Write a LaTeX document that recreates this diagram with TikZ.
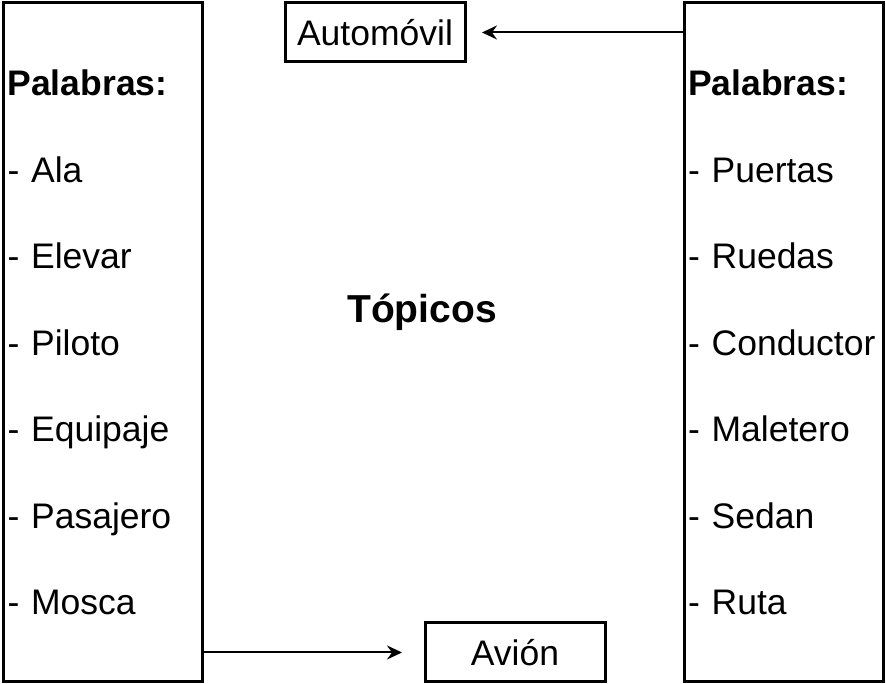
\documentclass[tikz,border=0pt]{standalone}
\usepackage{fontspec}
\setmainfont{Liberation Sans}
\usetikzlibrary{arrows.meta,calc}

\begin{document}
\begin{tikzpicture}[x=1pt, y=1pt,
    every node/.style={font=\fontsize{35.5}{86.5}\selectfont},
    caja/.style={draw=black, line width=3pt, minimum width=199pt,
      minimum height=679pt, text width=191pt, inner xsep=4pt,
      inner ysep=0pt, align=left},
    etiqueta/.style={draw=black, line width=3pt, minimum width=180pt,
      minimum height=59pt, inner sep=0pt},
    flecha/.style={-{Stealth[length=15pt,width=14pt,inset=5pt]},
      line width=2pt}]

  \def\XI{103}     % x caja izquierda
  \def\XD{783.5}   % x caja derecha
  \def\YC{341.5}   % y centro de las cajas

  \useasboundingbox (0,0) rectangle (886,684);

  % ── Cajas de palabras ─────────────────────────────────────
  \node[caja] (izq) at (\XI,\YC)
    {\textbf{Palabras:}\\- Ala\\- Elevar\\- Piloto\\- Equipaje\\- Pasajero\\- Mosca};
  \node[caja] (der) at (\XD,\YC)
    {\textbf{Palabras:}\\- Puertas\\- Ruedas\\- Conductor\\- Maletero\\- Sedan\\- Ruta};

  % ── Título central ────────────────────────────────────────
  \node[font=\fontsize{39}{44}\selectfont\bfseries] (topicos) at (422,372) {Tópicos};

  % ── Etiquetas ─────────────────────────────────────────────
  \node[etiqueta] (auto) at (375,651.5) {Automóvil};
  \node[etiqueta] (avion) at (515,31.5) {Avión};

  % ── Flechas ───────────────────────────────────────────────
  \coordinate (finAuto) at (482,651.5);
  \coordinate (finAvion) at (402,31.5);
  \draw[flecha] (der.west |- auto) -- (finAuto);
  \draw[flecha] (izq.east |- avion) -- (finAvion);

\end{tikzpicture}
\end{document}
